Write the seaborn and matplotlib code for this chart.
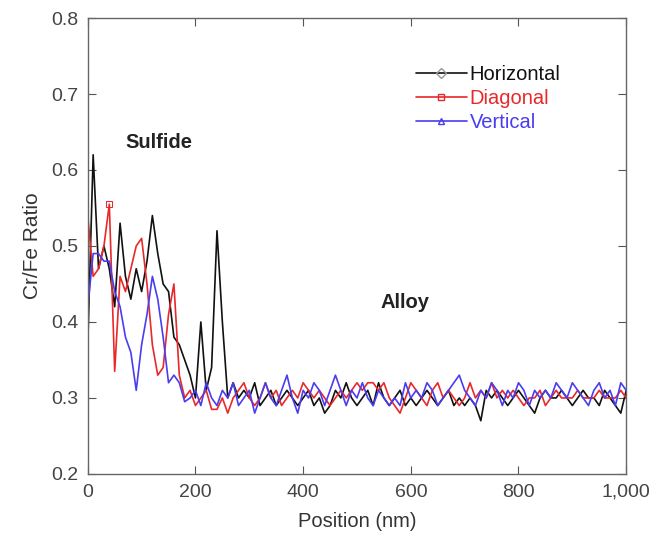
import numpy as np
import pandas as pd
import matplotlib
matplotlib.use("Agg")
import matplotlib.pyplot as plt
from matplotlib.ticker import FuncFormatter, MultipleLocator
from matplotlib.lines import Line2D
import seaborn as sns

position = list(range(0, 1001, 10))

horizontal = [0.37, 0.62, 0.47, 0.50, 0.47, 0.42, 0.53, 0.46, 0.43, 0.47,
              0.44, 0.48, 0.54, 0.49, 0.45, 0.44, 0.38, 0.37, 0.35, 0.33,
              0.30, 0.40, 0.31, 0.34, 0.52, 0.40, 0.30, 0.32, 0.30, 0.31,
              0.30, 0.32, 0.29, 0.30, 0.31, 0.29, 0.30, 0.31, 0.30, 0.29,
              0.30, 0.31, 0.29, 0.30, 0.28, 0.29, 0.31, 0.30, 0.32, 0.30,
              0.29, 0.30, 0.31, 0.29, 0.32, 0.30, 0.29, 0.30, 0.31, 0.29,
              0.30, 0.29, 0.30, 0.31, 0.30, 0.29, 0.30, 0.31, 0.29, 0.30,
              0.29, 0.30, 0.29, 0.27, 0.31, 0.30, 0.31, 0.30, 0.29, 0.30,
              0.31, 0.30, 0.29, 0.28, 0.30, 0.31, 0.30, 0.30, 0.31, 0.30,
              0.29, 0.30, 0.31, 0.30, 0.30, 0.29, 0.31, 0.30, 0.29, 0.28,
              0.31]

diagonal = [0.54, 0.46, 0.47, 0.50, 0.555, 0.335, 0.46, 0.44, 0.47, 0.50,
            0.51, 0.45, 0.37, 0.33, 0.34, 0.41, 0.45, 0.33, 0.30, 0.31,
            0.29, 0.30, 0.31, 0.285, 0.285, 0.30, 0.28, 0.30, 0.31, 0.32,
            0.30, 0.29, 0.30, 0.32, 0.30, 0.31, 0.29, 0.30, 0.31, 0.30,
            0.32, 0.31, 0.30, 0.31, 0.30, 0.29, 0.30, 0.31, 0.30, 0.31,
            0.32, 0.31, 0.32, 0.32, 0.31, 0.32, 0.30, 0.29, 0.28, 0.30,
            0.32, 0.31, 0.30, 0.29, 0.31, 0.32, 0.30, 0.31, 0.30, 0.29,
            0.30, 0.32, 0.30, 0.31, 0.30, 0.32, 0.30, 0.31, 0.30, 0.31,
            0.30, 0.29, 0.30, 0.30, 0.31, 0.29, 0.30, 0.31, 0.30, 0.30,
            0.30, 0.31, 0.30, 0.30, 0.30, 0.31, 0.30, 0.30, 0.30, 0.31,
            0.30]

vertical = [0.42, 0.49, 0.49, 0.48, 0.48, 0.44, 0.42, 0.38, 0.36, 0.31,
            0.37, 0.41, 0.46, 0.43, 0.38, 0.32, 0.33, 0.32, 0.295, 0.30,
            0.31, 0.29, 0.32, 0.30, 0.29, 0.31, 0.30, 0.32, 0.29, 0.30,
            0.31, 0.28, 0.30, 0.32, 0.30, 0.29, 0.31, 0.33, 0.30, 0.28,
            0.31, 0.30, 0.32, 0.31, 0.29, 0.31, 0.33, 0.31, 0.29, 0.31,
            0.30, 0.32, 0.30, 0.29, 0.31, 0.30, 0.29, 0.30, 0.29, 0.32,
            0.30, 0.31, 0.30, 0.32, 0.31, 0.29, 0.30, 0.31, 0.32, 0.33,
            0.31, 0.30, 0.29, 0.31, 0.30, 0.32, 0.31, 0.29, 0.31, 0.30,
            0.32, 0.31, 0.29, 0.31, 0.30, 0.31, 0.30, 0.32, 0.31, 0.30,
            0.32, 0.31, 0.30, 0.29, 0.31, 0.32, 0.30, 0.31, 0.29, 0.32,
            0.31]

series_names = ["Horizontal", "Diagonal", "Vertical"]
series_colors = ["#111111", "#e8282a", "#4a3cf0"]
series_markers = ["D", "s", "^"]

df = pd.DataFrame({
    "Position": position * 3,
    "Ratio": horizontal + diagonal + vertical,
    "Series": sum([[n] * len(position) for n in series_names], []),
})

sns.set_theme(style="white")
plt.rcParams["font.family"] = ["Liberation Sans", "DejaVu Sans"]

fig = plt.figure(figsize=(6.55, 5.46), dpi=100)
ax = fig.add_axes([0.134, 0.132, 0.822, 0.835])

for name, col, mk in zip(series_names, series_colors, series_markers):
    sub = df[df["Series"] == name]
    sns.lineplot(data=sub, x="Position", y="Ratio", ax=ax, color=col,
                 linewidth=1.2, marker=mk, markersize=5,
                 markevery=[4] if name == "Diagonal" else [],
                 markerfacecolor="none", markeredgecolor=col, label=name,
                 estimator=None, sort=False)

ax.set_xlim(0, 1000)
ax.set_ylim(0.2, 0.8)
ax.xaxis.set_major_locator(MultipleLocator(200))
ax.yaxis.set_major_locator(MultipleLocator(0.1))
ax.xaxis.set_major_formatter(FuncFormatter(lambda v, p: f"{v:,.0f}"))
ax.yaxis.set_major_formatter(FuncFormatter(lambda v, p: f"{v:.1f}"))
ax.tick_params(direction="in", length=6, width=0.8, colors="#555555",
               labelcolor="#444444", labelsize=14, top=True, right=True,
               bottom=True, left=True, pad=7)
for s in ax.spines.values():
    s.set_color("#666666")
    s.set_linewidth(1.0)
    s.set_visible(True)

ax.set_xlabel("Position (nm)", fontsize=14.5, color="#333333", labelpad=8)
ax.set_ylabel("Cr/Fe Ratio", fontsize=15, color="#333333", labelpad=6)

ax.text(69, 0.636, "Sulfide", fontsize=14.5, fontweight="bold",
        color="#222222", va="center", ha="left")
ax.text(543, 0.425, "Alloy", fontsize=14.5, fontweight="bold",
        color="#222222", va="center", ha="left")

handles = [Line2D([0], [0], color=c, lw=1.2, marker=m, markersize=5,
                  markerfacecolor="none",
                  markeredgecolor=c if c != "#111111" else "#999999")
           for c, m in zip(series_colors, series_markers)]
leg = ax.legend(handles, series_names, loc="upper left",
                bbox_to_anchor=(0.61, 0.897), frameon=False, fontsize=14.5,
                handlelength=2.5, handletextpad=0.15, labelspacing=0.25,
                borderaxespad=0, borderpad=0)
for t, c in zip(leg.get_texts(), series_colors):
    t.set_color(c)

fig.savefig("out.png", dpi=100)
